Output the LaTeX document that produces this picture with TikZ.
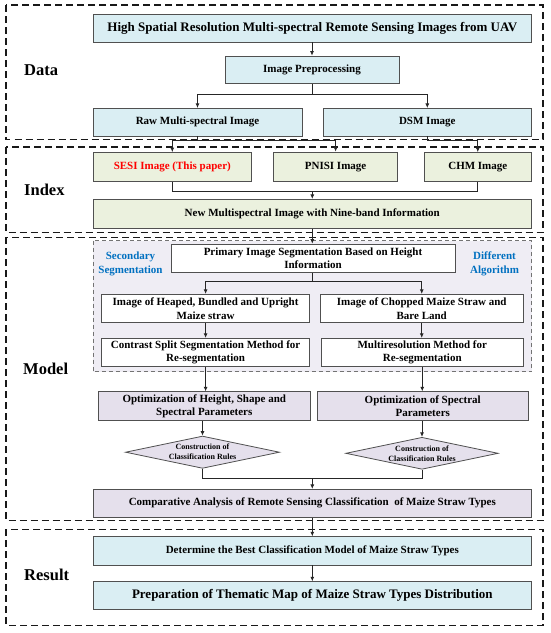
\documentclass[tikz,border=0pt]{standalone}
\usepackage{fontspec}
\setmainfont{Liberation Serif}
\usetikzlibrary{arrows.meta,shapes.geometric}
\definecolor{bluebox}{RGB}{218,238,243}
\definecolor{greenbox}{RGB}{235,241,222}
\definecolor{purplebox}{RGB}{229,224,236}
\definecolor{innerfill}{RGB}{239,237,244}
\definecolor{boxline}{RGB}{80,80,80}
\definecolor{labelblue}{RGB}{0,112,192}
\definecolor{sesired}{RGB}{255,0,0}
\begin{document}
\begin{tikzpicture}[x=1pt,y=-1pt,
  box/.style={draw=boxline, line width=0.8pt, inner sep=0pt, align=center,
    font=\fontsize{11}{13.5}\selectfont\bfseries},
  bigbox/.style={box, font=\fontsize{13}{15}\selectfont\bfseries},
  dia/.style={draw=boxline, line width=0.8pt, diamond, aspect=4.8, inner sep=0pt,
    fill=purplebox, align=center, font=\fontsize{8}{10}\selectfont\bfseries},
  conn/.style={draw=black!85, line width=0.8pt},
  arr/.style={conn, -{Latex[length=4.5pt,width=4pt]}},
  region/.style={draw=black!90, line width=1.3pt, dash pattern=on 7pt off 4pt},
  innerregion/.style={draw=black!55, line width=0.8pt, dash pattern=on 4pt off 3pt, fill=innerfill},
  sectionlabel/.style={anchor=west, inner sep=0pt, font=\fontsize{16.5}{18}\selectfont\bfseries},
  bluelabel/.style={align=center, inner sep=0pt, text=labelblue,
    font=\fontsize{11}{14}\selectfont\bfseries},
]
\useasboundingbox (0,0) rectangle (550,633);
\fill[white] (0,0) rectangle (550,633);

% regions
\draw[region] (6,5) rectangle (543,139.5);
\draw[region] (6,147) rectangle (543,232.3);
\draw[region] (6,237.3) rectangle (543,520.7);
\draw[region] (6,529.3) rectangle (543,625.3);
\draw[innerregion] (93,240.5) rectangle (531.6,371.7);

% section labels
\node[sectionlabel] (ldata) at (24,70) {Data};
\node[sectionlabel] (lindex) at (24,190) {Index};
\node[sectionlabel] (lmodel) at (23,369) {Model};
\node[sectionlabel] (lresult) at (24,575) {Result};

% Data
\node[bigbox, fill=bluebox, minimum width=438.6pt, minimum height=28pt] (title) at (312.3,28)
  {High Spatial Resolution Multi-spectral Remote Sensing Images from UAV};
\node[box, fill=bluebox, minimum width=174pt, minimum height=27.5pt] (pre) at (312,69.75)
  {Image Preprocessing};
\node[box, fill=bluebox, minimum width=209pt, minimum height=27.7pt] (raw) at (197.5,122.2)
  {Raw Multi-spectral Image};
\node[box, fill=bluebox, minimum width=208.6pt, minimum height=27.7pt] (dsm) at (427.3,122.2)
  {DSM Image};

% Index
\node[box, fill=greenbox, minimum width=158.6pt, minimum height=29.2pt, text=sesired] (sesi) at (172.3,167.1)
  {SESI Image (This paper)};
\node[box, fill=greenbox, minimum width=123.8pt, minimum height=29.2pt] (pnisi) at (335.6,166.6)
  {PNISI Image};
\node[box, fill=greenbox, minimum width=107.6pt, minimum height=29.2pt] (chm) at (477.8,167.1)
  {CHM Image};
\node[box, fill=greenbox, minimum width=438.6pt, minimum height=29pt] (new) at (312.3,213.8)
  {New Multispectral Image with Nine-band Information};

% Model
\node[bluelabel] (secseg) at (130.5,263.5) {Secondary\\Segmentation};
\node[bluelabel] (difalg) at (494.5,263.5) {Different\\Algorithm};
\node[box, fill=white, minimum width=284pt, minimum height=28.7pt] (primary) at (313,258.4)
  {Primary Image Segmentation Based on Height\\Information};
\node[box, fill=white, minimum width=207.8pt, minimum height=28.4pt] (heaped) at (205.6,308.5)
  {Image of Heaped, Bundled and Upright\\Maize straw};
\node[box, fill=white, minimum width=203.5pt, minimum height=28.4pt] (chopped) at (421.75,308.5)
  {Image of Chopped Maize Straw and\\Bare Land};
\node[box, fill=white, minimum width=207.8pt, minimum height=28.4pt] (contrast) at (205.6,352.5)
  {Contrast Split Segmentation Method for\\Re-segmentation};
\node[box, fill=white, minimum width=202.5pt, minimum height=28.4pt] (multires) at (422.25,352.5)
  {Multiresolution Method for\\Re-segmentation};
\node[box, fill=purplebox, minimum width=212.5pt, minimum height=29pt] (opt1) at (204.25,406.2)
  {Optimization of Height, Shape and\\Spectral Parameters};
\node[box, fill=purplebox, minimum width=210.5pt, minimum height=29pt] (opt2) at (422.75,406.2)
  {Optimization of Spectral\\Parameters};
\node[dia, minimum width=154pt, minimum height=32.3pt] (d1) at (202.5,452.2)
  {Construction of\\Classification Rules};
\node[dia, minimum width=152.4pt, minimum height=32pt] (d2) at (422,453.3)
  {Construction of\\Classification Rules};
\node[box, fill=purplebox, minimum width=438.6pt, minimum height=28pt] (comp) at (312.3,503.3)
  {Comparative Analysis of Remote Sensing Classification\ \ of Maize Straw Types};

% Result
\node[box, fill=bluebox, minimum width=438.6pt, minimum height=28.3pt] (det) at (312.3,550.85)
  {Determine the Best Classification Model of Maize Straw Types};
\node[bigbox, fill=bluebox, minimum width=438.6pt, minimum height=27.6pt] (prep) at (312.3,595.5)
  {Preparation of Thematic Map of Maize Straw Types Distribution};

% junction coordinates
\coordinate (j1) at (312,94);
\coordinate (j2) at (197.5,140.5);
\coordinate (j2b) at (427.3,140.5);
\coordinate (j3) at (312.3,191);
\coordinate (j4) at (312.3,281.7);
\coordinate (j5) at (312.3,478);

% connectors
\draw[arr] (title.south -| pre.north) -- (pre.north);
\draw[conn] (pre.south) -- (j1);
\draw[arr] (j1) -| (raw.north);
\draw[arr] (j1) -| (dsm.north);

\draw[conn] (raw.south) -- (j2);
\draw[arr] (j2) -| (sesi.north);
\draw[arr] (j2) -| (pnisi.north);
\draw[conn] (dsm.south) -- (j2b);
\draw[arr] (j2b) -| (chm.north);

\draw[conn] (sesi.south) |- (j3);
\draw[conn] (j3) -| (chm.south);
\draw[arr] (j3) -- (j3 |- new.north);

\draw[arr] (new.south) -- (new.south |- primary.north);
\draw[conn] (primary.south -| j4) -- (j4);
\draw[arr] (j4) -| (heaped.north);
\draw[arr] (j4) -| (chopped.north);

\draw[arr] (heaped.south) -- (contrast.north);
\draw[arr] (chopped.south) -- (chopped.south |- multires.north);
\draw[arr] (contrast.south) -- (contrast.south |- opt1.north);
\draw[arr] (multires.south) -- (multires.south |- opt2.north);
\draw[arr] (opt1.south -| d1.north) -- (d1.north);
\draw[arr] (opt2.south -| d2.north) -- (d2.north);

\draw[conn] (d1.south) |- (j5);
\draw[conn] (j5) -| (d2.south);
\draw[arr] (j5) -- (j5 |- comp.north);

\draw[arr] (comp.south) -- (det.north);
\draw[arr] (det.south) -- (prep.north);
\end{tikzpicture}
\end{document}
